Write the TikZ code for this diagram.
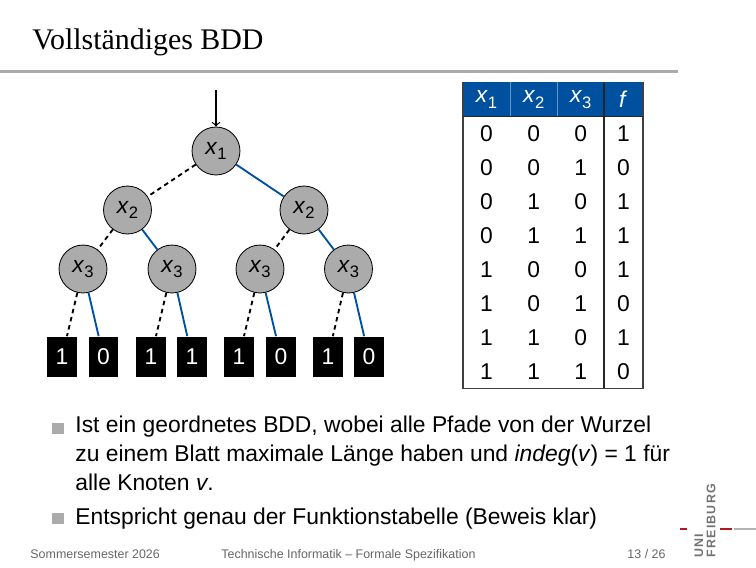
\documentclass[tikz,border=0pt]{standalone}
\usepackage{fontspec}
\setmainfont{Liberation Sans}
\newfontfamily\titlefont{Liberation Serif}
\definecolor{ufblue}{RGB}{0,80,160}
\definecolor{ufred}{RGB}{175,25,35}
\newcommand{\xv}[1]{\textit{x}\raisebox{-0.45ex}{\fontsize{8}{8}\selectfont #1}}
\tikzset{
  var/.style={circle,draw=black,fill=black!33,minimum size=23.1pt,inner sep=0pt,font=\fontsize{11}{13}\selectfont},
  leaf/.style={rectangle,fill=black,text=white,minimum width=14pt,minimum height=19.7pt,inner sep=0pt,font=\fontsize{11}{13}\selectfont},
  lo/.style={line width=0.9pt,dash pattern=on 2.2pt off 1.8pt},
  hi/.style={ufblue,line width=0.9pt},
  cell/.style={font=\fontsize{11}{13}\selectfont},
  foot/.style={anchor=base west,text=black!60,font=\fontsize{6}{7}\selectfont},
  logo/.style={rotate=90,anchor=west,inner sep=0pt,text=black!55,font=\fontsize{6}{6}\bfseries\addfontfeatures{LetterSpace=10}}
}
\begin{document}
\begin{tikzpicture}[x=0.4817pt,y=-0.4817pt]
\useasboundingbox (0,0) rectangle (756,567);
\node[anchor=base west,font=\titlefont\fontsize{14.4}{17}\selectfont] (title) at (25,49) {Vollständiges BDD};
\draw[black!33,line width=1pt] (0,71.5) -- (678,71.5);
\coordinate (in) at (216,90);
\node[var] (r) at (216,151) {\xv1};
\node[var] (a) at (127.5,210) {\xv2};
\node[var] (b) at (304,210) {\xv2};
\node[var] (aa) at (83,269) {\xv3};
\node[var] (ab) at (172,269) {\xv3};
\node[var] (ba) at (260,269) {\xv3};
\node[var] (bb) at (348.5,269) {\xv3};
\foreach \n/\x/\v in {1/62/1,2/103.5/0,3/151/1,4/192/1,5/239/1,6/281/0,7/328/1,8/369/0}
  \node[leaf] (l\n) at (\x,357) {\v};
\draw[semithick,->] (in) -- (r);
\draw[lo] (r) -- (a); \draw[hi] (r) -- (b);
\draw[lo] (a) -- (aa); \draw[hi] (a) -- (ab);
\draw[lo] (b) -- (ba); \draw[hi] (b) -- (bb);
\draw[lo] (aa) -- (l1); \draw[hi] (aa) -- (l2);
\draw[lo] (ab) -- (l3); \draw[hi] (ab) -- (l4);
\draw[lo] (ba) -- (l5); \draw[hi] (ba) -- (l6);
\draw[lo] (bb) -- (l7); \draw[hi] (bb) -- (l8);
\fill[ufblue] (463,82.3) rectangle (643,116.7);
\draw[ufblue!60!white,line width=0.3pt] (510,82.3) -- (510,116.7) (557,82.3) -- (557,116.7);
\draw[black!75,line width=0.5pt] (463,82.3) -- (463,388.3) -- (643,388.3) -- (643,82.3);
\draw[black!85,line width=0.6pt] (463,116.7) -- (643,116.7) (604,82.3) -- (604,388.3);
\foreach \x/\t [count=\k] in {486.5/\xv1,533.7/\xv2,580.7/\xv3,623.4/\textit{f}}
  \node[cell,text=white] (h\k) at (\x,99.5) {\t};
\foreach \p/\q/\s/\f [count=\i] in {0/0/0/1,0/0/1/0,0/1/0/1,0/1/1/1,1/0/0/1,1/0/1/0,1/1/0/1,1/1/1/0} {
  \node[cell] (p\i) at (486.5,{99.7+34*\i}) {\p};
  \node[cell] (q\i) at (533.7,{99.7+34*\i}) {\q};
  \node[cell] (s\i) at (580.7,{99.7+34*\i}) {\s};
  \node[cell] (f\i) at (623.4,{99.7+34*\i}) {\f};
}
\fill[black!33] (52,422.5) rectangle (63.5,434);
\fill[black!33] (52,512.5) rectangle (63.5,524);
\node[anchor=base west,align=left,inner sep=0pt,font=\fontsize{11}{13.97}\selectfont] (item1) at (75,490)
  {Ist ein geordnetes BDD, wobei alle Pfade von der Wurzel\\
   zu einem Blatt maximale Länge haben und \textit{indeg}(\textit{v}) = 1 für\\
   alle Knoten \textit{v}.};
\node[anchor=base west,inner sep=0pt,font=\fontsize{11}{13.97}\selectfont] (item2) at (75,524)
  {Entspricht genau der Funktionstabelle (Beweis klar)};
\node[foot,inner sep=0pt] (date) at (30,558) {Sommersemester 2026};
\node[foot,inner sep=0pt] (talk) at (221,558) {Technische Informatik -- Formale Spezifikation};
\node[foot,inner sep=0pt,anchor=base east] (page) at (666,558) {13 / 26};
\node[logo] (uni) at (699,558) {UNI};
\node[logo] (frb) at (711,558) {FREIBURG};
\draw[ufred,line width=1pt] (680,529) -- (687,529) (720,529) -- (732,529);
\draw[black!30,line width=1pt] (734,529) -- (756,529);
\end{tikzpicture}
\end{document}
